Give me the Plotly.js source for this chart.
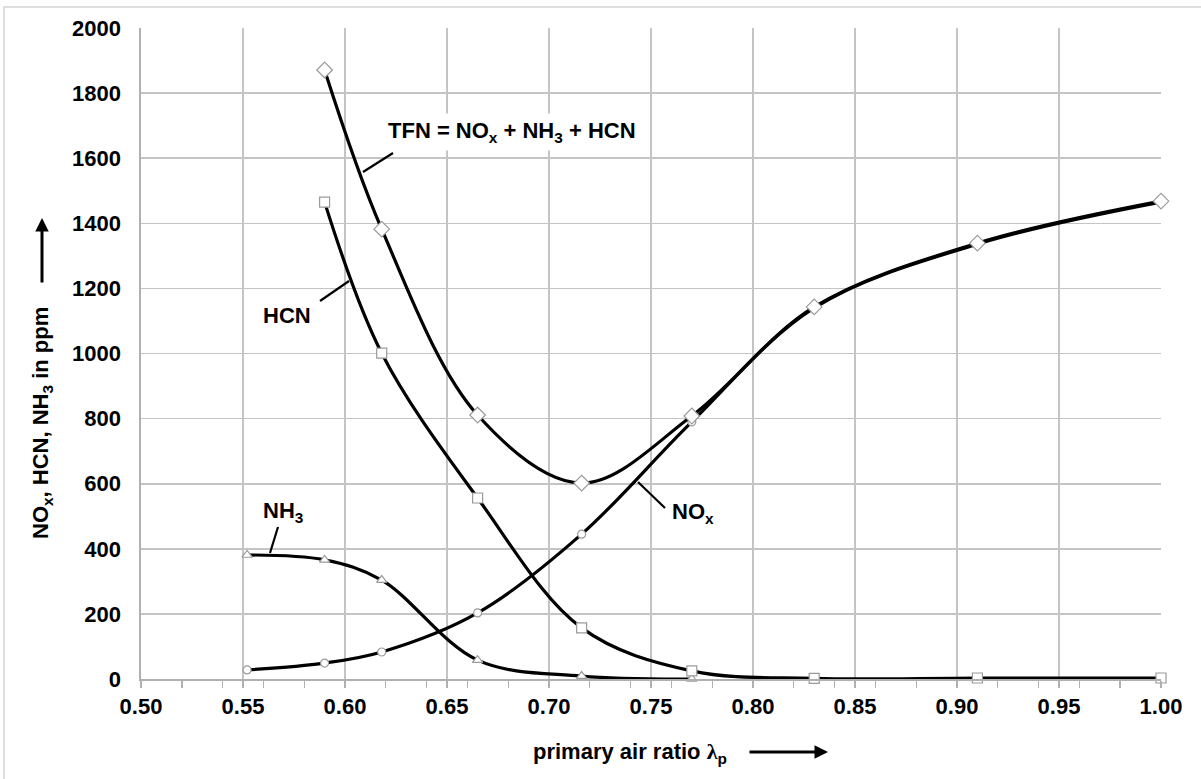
<!DOCTYPE html>
<html>
<head>
<meta charset="utf-8">
<script src="https://cdn.plot.ly/plotly-3.0.1.min.js"></script>
<style>html,body{margin:0;padding:0;background:#fff;}#chart{width:1201px;height:779px;}</style>
</head>
<body>
<div id="chart"></div>
<script>
// primary air ratio values (x)
const lambdaP = [0.552, 0.590, 0.618, 0.665, 0.716, 0.770, 0.830, 0.910, 1.000];
const lambdaTFN = [0.590, 0.618, 0.665, 0.716, 0.770, 0.830, 0.910, 1.000];
const lambdaNH3 = [0.552, 0.590, 0.618, 0.665, 0.716, 0.770];
// concentrations in ppm
const noxValues = [28, 49, 83, 203, 445, 790, 1140, 1336, 1465];
const nh3Values = [381, 366, 304, 58, 9, 0];
const hcnValues = [1465, 1001, 556, 157, 25, 2, 3, 3];
const tfnValues = [1871, 1382, 811, 602, 808, 1143, 1339, 1468];
const lambdaHCN = [0.590, 0.618, 0.665, 0.716, 0.770, 0.830, 0.910, 1.000];
const xTickVals = [0.50, 0.55, 0.60, 0.65, 0.70, 0.75, 0.80, 0.85, 0.90, 0.95, 1.00];
const yTickVals = [0, 200, 400, 600, 800, 1000, 1200, 1400, 1600, 1800, 2000];

const FONT = 'Liberation Sans, Arial, sans-serif';
const lineStyle = {color: '#000', width: 3.2, shape: 'spline', smoothing: 1};
function mk(symbol, size) {
  return {symbol: symbol, size: size, color: '#fff', line: {color: '#9a9a9a', width: 1.2}};
}
const traces = [
  {x: lambdaP, y: noxValues, mode: 'lines+markers', line: lineStyle, marker: mk('circle', 8), cliponaxis: false, name: 'NOx'},
  {x: lambdaNH3, y: nh3Values, mode: 'lines+markers', line: lineStyle, marker: mk('triangle-up', 9), cliponaxis: false, name: 'NH3'},
  {x: lambdaHCN, y: hcnValues, mode: 'lines+markers', line: lineStyle, marker: mk('square', 10), cliponaxis: false, name: 'HCN'},
  {x: lambdaTFN, y: tfnValues, mode: 'lines+markers', line: lineStyle, marker: mk('diamond', 12), cliponaxis: false, name: 'TFN'}
];

const W = 1201, H = 779, L = 141, R = 1161, T = 28, B = 679;
function px(p) { return (p - L) / (R - L); }
function py(p) { return (B - p) / (B - T); }
function dx(p) { return 0.5 + (p - L) / (R - L) * 0.5; }
function dy(p) { return (B - p) / (B - T) * 2000; }

const lblFont = {family: FONT, size: 22, color: '#000'};
function leader(x0, y0, x1, y1) {
  return {type: 'line', xref: 'x', yref: 'y', x0: dx(x0), y0: dy(y0), x1: dx(x1), y1: dy(y1), line: {color: '#000', width: 2.2}};
}

const layout = {
  width: W, height: H,
  margin: {l: L, r: W - R, t: T, b: H - B},
  paper_bgcolor: '#fff', plot_bgcolor: '#fff',
  showlegend: false,
  font: {family: FONT, size: 22, color: '#000'},
  xaxis: {
    range: [0.5, 1.0], tickvals: xTickVals, tickformat: '.2f',
    showgrid: true, gridcolor: '#c4c4c4', gridwidth: 1.6,
    showline: true, linecolor: '#b0b0b0', linewidth: 1.6,
    ticks: 'outside', ticklen: 7, tickcolor: '#b0b0b0', tickwidth: 1.4,
    minor: {dtick: 0.02, tick0: 0.5, ticks: 'outside', ticklen: 7, tickcolor: '#b0b0b0', tickwidth: 1.4, showgrid: false},
    tickfont: {family: FONT, size: 22, color: '#000', weight: 'bold'},
    zeroline: false, fixedrange: true
  },
  yaxis: {
    range: [0, 2000], tickvals: yTickVals,
    showgrid: true, gridcolor: '#c4c4c4', gridwidth: 1.6,
    showline: true, linecolor: '#b0b0b0', linewidth: 1.6,
    ticks: '', ticklabelstandoff: 14,
    tickfont: {family: FONT, size: 22, color: '#000', weight: 'bold'},
    zeroline: false, fixedrange: true
  },
  shapes: [
    {type: 'rect', xref: 'paper', yref: 'paper', x0: px(4), y0: py(900), x1: px(1300), y1: py(7), line: {color: '#d4d4d4', width: 1.5}, layer: 'below'},
    leader(363, 172, 393, 153),
    leader(320, 301, 349, 281),
    leader(278, 527, 270, 553),
    leader(638, 482, 665, 508)
  ],
  annotations: [
    {xref: 'x', yref: 'y', x: dx(383), y: dy(132), xanchor: 'left', yanchor: 'middle', showarrow: false,
     text: '<b>TFN = NO<sub>x</sub> + NH<sub>3</sub> + HCN</b>', font: lblFont, bgcolor: '#fff', borderpad: 4},
    {xref: 'x', yref: 'y', x: dx(261), y: dy(315), xanchor: 'left', yanchor: 'middle', showarrow: false,
     text: '<b>HCN</b>', font: lblFont, bgcolor: 'rgba(0,0,0,0)'},
    {xref: 'x', yref: 'y', x: dx(261), y: dy(512), xanchor: 'left', yanchor: 'middle', showarrow: false,
     text: '<b>NH<sub>3</sub></b>', font: lblFont},
    {xref: 'x', yref: 'y', x: dx(670), y: dy(513), xanchor: 'left', yanchor: 'middle', showarrow: false,
     text: '<b>NO<sub>x</sub></b>', font: lblFont},
    // y-axis title
    {xref: 'paper', yref: 'paper', x: px(42), y: py(423), xanchor: 'center', yanchor: 'middle', textangle: -90, showarrow: false,
     text: '<b>NO<sub>x</sub>, HCN, NH<sub>3</sub> in ppm</b>', font: lblFont},
    {xref: 'paper', yref: 'paper', x: px(42), y: py(218), ax: 0, ay: 66, text: '', showarrow: true,
     arrowhead: 2, arrowsize: 0.9, arrowwidth: 3, arrowcolor: '#000', standoff: 0},
    // x-axis title
    {xref: 'paper', yref: 'paper', x: px(531), y: py(753), xanchor: 'left', yanchor: 'middle', showarrow: false,
     text: '<b>primary air ratio <span style="font-family:Liberation Serif">λ</span><sub>p</sub></b>', font: lblFont},
    {xref: 'paper', yref: 'paper', x: px(828), y: py(752), ax: -80, ay: 0, text: '', showarrow: true,
     arrowhead: 2, arrowsize: 0.9, arrowwidth: 3, arrowcolor: '#000', standoff: 0}
  ]
};

Plotly.newPlot('chart', traces, layout, {staticPlot: true, displayModeBar: false});
</script>
</body>
</html>
